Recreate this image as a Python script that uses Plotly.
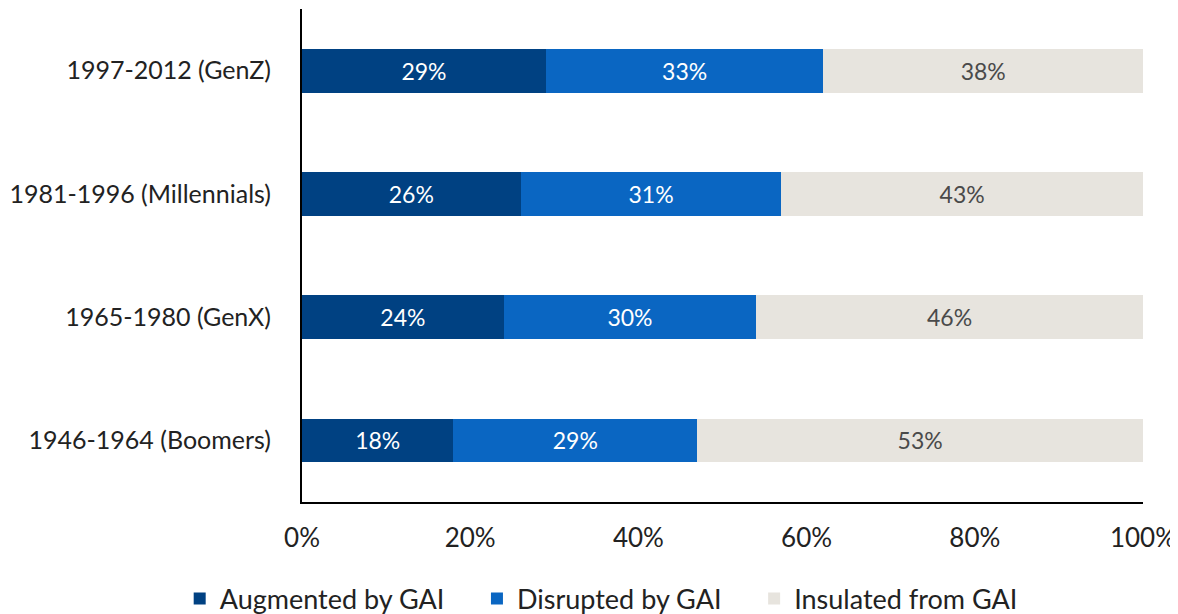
import plotly.graph_objects as go

categories = ["1946-1964 (Boomers)", "1965-1980 (GenX)", "1981-1996 (Millennials)", "1997-2012 (GenZ)"]
augmented = [18, 24, 26, 29]
disrupted = [29, 30, 31, 33]
insulated = [53, 46, 43, 38]
x_ticks = [0, 20, 40, 60, 80, 100]
x_tick_labels = ["0%", "20%", "40%", "60%", "80%", "100%"]
series_names = ["Augmented by GAI", "Disrupted by GAI", "Insulated from GAI"]

PAD = "\u00a0" * 4  # extra spacing between legend entries
series = [
    (series_names[0], PAD, augmented, "#004182", "white"),
    (series_names[1], PAD, disrupted, "#0a66c2", "white"),
    (series_names[2], "", insulated, "#e7e4de", "#4a4a4a"),
]

FONT = "Lato"
fig = go.Figure()
for name, pad, vals, color, tcolor in series:
    fig.add_trace(go.Bar(
        y=categories, x=vals, name=name + pad, orientation="h",
        marker=dict(color=color, line=dict(width=0)),
        text=[f"{v}%" for v in vals], textposition="inside",
        insidetextanchor="middle",
        textfont=dict(color=tcolor, size=23, family=FONT),
        hoverinfo="skip",
    ))

# The page body adds an 8px offset, so the figure is sized 8px smaller.
fig.update_layout(
    barmode="stack",
    bargap=0.645,
    width=1170, height=606,
    margin=dict(l=294, r=35, t=1, b=112, autoexpand=False),
    plot_bgcolor="white", paper_bgcolor="white",
    font=dict(family=FONT, color="#222222"),
    uniformtext=dict(minsize=8, mode="show"),
    legend=dict(
        orientation="h", xref="container", yref="container",
        x=0.507, xanchor="center", y=0.025, yanchor="middle",
        font=dict(size=27, family=FONT, color="#222222"),
        itemwidth=30, traceorder="normal",
    ),
    xaxis=dict(
        range=[0, 100], tickvals=x_ticks, ticktext=x_tick_labels,
        showgrid=False, zeroline=False, showline=True, linecolor="black", linewidth=2,
        tickfont=dict(size=26, family=FONT, color="#222222"),
        ticks="outside", ticklen=12, tickcolor="rgba(0,0,0,0)",
        fixedrange=True,
    ),
    yaxis=dict(
        categoryorder="array", categoryarray=categories,
        range=[-0.5, 3.5],
        showgrid=False, zeroline=False, showline=True, linecolor="black", linewidth=2,
        tickfont=dict(size=25, family=FONT, color="#222222"),
        ticks="outside", ticklen=24, tickcolor="rgba(0,0,0,0)",
        fixedrange=True,
    ),
)

fig.write_html("out.html")
